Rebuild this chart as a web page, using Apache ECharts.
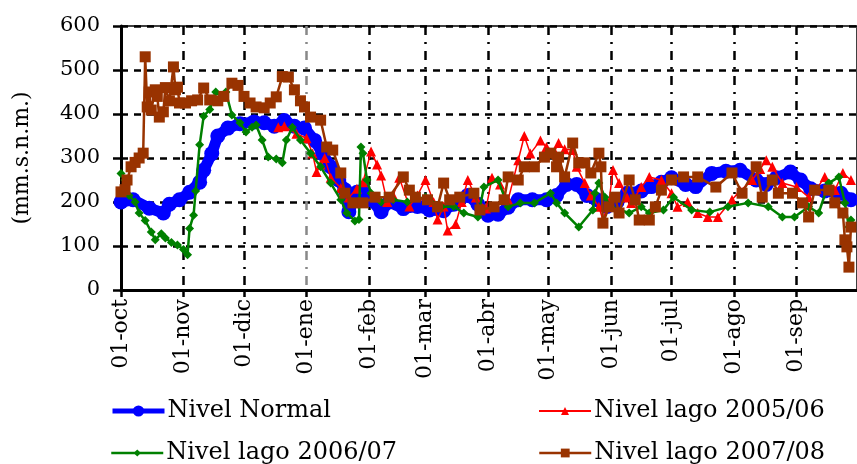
<!DOCTYPE html>
<html>
<head>
<meta charset="utf-8">
<script src="https://cdn.jsdelivr.net/npm/echarts@6/dist/echarts.min.js"></script>
<style>
  html, body { margin: 0; padding: 0; background: #fff; }
  #chart { width: 857px; height: 464px; }
</style>
</head>
<body>
<div id="chart"></div>
<script>
// days counted from 01-oct
const monthDays = [0, 31, 61, 92, 123, 151, 182, 212, 243, 273, 304, 335];
const monthLabels = ['01-oct', '01-nov', '01-dic', '01-ene', '01-feb', '01-mar',
                     '01-abr', '01-may', '01-jun', '01-jul', '01-ago', '01-sep'];
const yTicks = [0, 100, 200, 300, 400, 500, 600];

const normalDays = [0, 6, 14, 21, 24, 29, 34, 39, 41, 45, 48, 53, 59, 66, 71, 76, 81, 86, 91, 96,
  100, 104, 108, 111, 113, 117, 120, 124, 129, 133, 140, 147, 153, 160, 165, 172, 177, 182, 187, 192,
  197, 204, 211, 216, 221, 226, 231, 236, 241, 246, 251, 258, 263, 268, 273, 280, 285, 293, 300, 307,
  315, 320, 325, 332, 337, 342, 349, 357, 362];
const normalLevels = [200, 205, 186, 175, 195, 205, 222, 245, 272, 310, 350, 368, 378, 382, 380, 372, 385, 372, 368, 340,
  310, 280, 250, 228, 178, 222, 226, 205, 178, 200, 185, 190, 182, 180, 195, 215, 195, 170, 172, 188,
  205, 205, 205, 215, 240, 240, 215, 205, 190, 200, 220, 225, 235, 245, 255, 240, 235, 265, 270, 272,
  250, 240, 255, 268, 250, 230, 225, 220, 205];

const lago0506Days = [78, 81, 87, 92, 95, 97, 99, 101, 104, 109, 113, 117, 120, 124, 127, 129, 132, 135, 138, 143,
  147, 151, 155, 157, 160, 162, 166, 169, 172, 176, 181, 184, 188, 192, 197, 200, 203, 208, 211, 215,
  217, 220, 224, 226, 230, 233, 237, 239, 242, 244, 247, 251, 253, 258, 262, 268, 273, 276, 281, 286,
  291, 296, 303, 307, 313, 317, 320, 323, 328, 335, 341, 345, 349, 354, 358, 362];
const lago0506Levels = [370, 372, 355, 345, 310, 268, 285, 300, 255, 232, 210, 230, 245, 315, 285, 260, 200, 215, 255, 190,
  215, 250, 200, 160, 190, 135, 150, 200, 250, 210, 185, 255, 240, 205, 295, 350, 310, 340, 325, 315,
  334, 320, 318, 280, 243, 215, 189, 159, 200, 273, 243, 210, 198, 234, 257, 250, 220, 189, 200, 175,
  166, 166, 205, 225, 250, 275, 295, 280, 243, 234, 211, 230, 257, 227, 266, 250];

const lago0607Days = [0, 2, 4, 7, 9, 12, 15, 17, 20, 22, 25, 28, 31, 33, 34, 36, 37, 39, 41, 44,
  47, 50, 52, 55, 59, 62, 65, 67, 70, 73, 77, 80, 82, 85, 89, 94, 99, 104, 109, 112,
  116, 118, 119, 120, 122, 124, 129, 135, 142, 151, 159, 165, 170, 177, 180, 187, 192, 198, 205, 213,
  216, 220, 227, 234, 235, 237, 240, 243, 252, 258, 262, 269, 274, 283, 292, 301, 311, 321, 328, 334,
  341, 346, 351, 356, 359, 361, 362];
const lago0607Levels = [265, 250, 215, 200, 175, 158, 132, 114, 128, 118, 108, 102, 92, 80, 140, 170, 225, 330, 395, 410,
  450, 440, 450, 398, 380, 359, 370, 375, 341, 302, 298, 289, 341, 370, 341, 311, 280, 243, 205, 175,
  157, 160, 325, 311, 250, 220, 200, 205, 200, 211, 189, 190, 175, 166, 234, 250, 189, 198, 198, 220,
  198, 175, 143, 182, 220, 243, 211, 189, 175, 189, 175, 182, 211, 182, 177, 189, 198, 189, 166, 166,
  189, 175, 243, 257, 198, 143, 159];

const lago0708Days = [0, 2, 3, 5, 7, 9, 11, 12, 13, 14, 15, 17, 18, 19, 21, 22, 24, 26, 27, 28,
  29, 32, 35, 38, 41, 44, 48, 51, 55, 58, 61, 64, 67, 71, 74, 77, 80, 83, 86, 89,
  91, 94, 99, 102, 105, 109, 111, 115, 120, 126, 133, 140, 143, 146, 152, 157, 160, 163, 168, 175,
  178, 185, 190, 192, 197, 200, 205, 210, 213, 216, 217, 220, 224, 227, 230, 233, 237, 238, 239, 242,
  245, 247, 252, 255, 257, 262, 265, 268, 273, 279, 286, 295, 303, 308, 315, 318, 323, 326, 333, 338,
  341, 344, 351, 354, 358, 359, 360, 361, 362];
const lago0708Levels = [223, 228, 250, 280, 290, 300, 311, 530, 416, 450, 409, 455, 440, 393, 405, 460, 430, 507, 455, 461,
  425, 425, 430, 432, 459, 432, 430, 440, 470, 465, 440, 425, 416, 414, 425, 439, 485, 484, 455, 430,
  416, 393, 386, 325, 318, 266, 220, 198, 198, 211, 211, 257, 227, 211, 205, 189, 243, 205, 211, 220,
  182, 189, 205, 257, 250, 280, 280, 302, 311, 280, 302, 257, 334, 289, 289, 266, 311, 280, 152, 189,
  211, 175, 250, 205, 159, 159, 189, 227, 250, 257, 257, 234, 266, 220, 280, 211, 250, 220, 220, 198,
  166, 227, 227, 198, 175, 114, 98, 52, 143];

function pairs(days, vals) {
  return days.map((d, i) => [d, vals[i]]);
}

const font = 'DejaVu Serif';

const chart = echarts.init(document.getElementById('chart'));

function legendAt(name, left, top, lineWidth, symSize) {
  return {
    data: [{ name: name }],
    left: left,
    top: top,
    padding: 0,
    itemWidth: 52,
    itemHeight: symSize,
    itemGap: 0,
    z: 20,
    lineStyle: { width: lineWidth },
    textStyle: { fontFamily: font, fontSize: 24, color: '#000', padding: [0, 0, 0, -2] }
  };
}

const option = {
  backgroundColor: '#fff',
  animation: false,
  grid: {
    left: 121,
    right: -5,
    top: 26,
    bottom: 174,
    show: true,
    borderColor: '#000',
    borderWidth: 1.5,
    backgroundColor: 'transparent'
  },
  legend: [
    legendAt('Nivel Normal', 110, 399, 5, 14),
    legendAt('Nivel lago 2005/06', 538, 399, 2, 10),
    legendAt('Nivel lago 2006/07', 110, 441, 2.5, 9),
    legendAt('Nivel lago 2007/08', 538, 441, 2.5, 11)
  ],
  xAxis: {
    type: 'value',
    min: 0,
    max: 365,
    axisLine: { show: true, onZero: false, lineStyle: { color: '#000', width: 3 } },
    axisTick: {
      show: true,
      customValues: monthDays,
      length: 7,
      lineStyle: { color: '#000', width: 2.5 }
    },
    axisLabel: {
      customValues: monthDays,
      rotate: 90,
      margin: 9,
      fontFamily: font,
      fontSize: 22,
      color: '#000',
      formatter: function (v) {
        const i = monthDays.indexOf(Math.round(v));
        return i >= 0 ? monthLabels[i] : '';
      }
    },
    splitLine: {
      show: true,
      lineStyle: {
        color: ['#000', '#000', '#000', '#888', '#000', '#000', '#000', '#000', '#000', '#000', '#000', '#000'],
        width: 2.5,
        type: [9, 7, 2, 7]
      }
    }
  },
  yAxis: {
    type: 'value',
    min: 0,
    max: 600,
    interval: 100,
    name: '(mm.s.n.m.)',
    nameLocation: 'middle',
    nameGap: 88,
    nameTextStyle: { fontFamily: font, fontSize: 22, color: '#000' },
    axisLine: { show: true, lineStyle: { color: '#000', width: 3 } },
    axisTick: { show: true, length: 8, lineStyle: { color: '#000', width: 2.5 } },
    axisLabel: {
      margin: 21,
      fontFamily: font,
      fontSize: 21,
      color: '#000',
      formatter: function (v) { return yTicks.indexOf(v) >= 0 ? String(v) : ''; }
    },
    splitLine: {
      show: true,
      lineStyle: { color: '#000', width: 2.5, type: [7, 6] }
    }
  },
  series: [
    {
      name: 'Nivel Normal',
      type: 'line',
      data: pairs(normalDays, normalLevels),
      symbol: 'circle',
      symbolSize: 15,
      color: '#0000ff',
      lineStyle: { width: 11, color: '#0000ff' },
      itemStyle: { color: '#0000ff' },
      z: 2
    },
    {
      name: 'Nivel lago 2005/06',
      type: 'line',
      data: pairs(lago0506Days, lago0506Levels),
      symbol: 'triangle',
      symbolSize: 10,
      color: '#ff0000',
      lineStyle: { width: 1.5, color: '#ff0000' },
      itemStyle: { color: '#ff0000' },
      z: 3
    },
    {
      name: 'Nivel lago 2006/07',
      type: 'line',
      data: pairs(lago0607Days, lago0607Levels),
      symbol: 'diamond',
      symbolSize: 9,
      color: '#008000',
      lineStyle: { width: 2.5, color: '#008000' },
      itemStyle: { color: '#008000' },
      z: 4
    },
    {
      name: 'Nivel lago 2007/08',
      type: 'line',
      data: pairs(lago0708Days, lago0708Levels),
      symbol: 'rect',
      symbolSize: 11,
      color: '#993300',
      lineStyle: { width: 2.5, color: '#993300' },
      itemStyle: { color: '#993300' },
      z: 5
    }
  ]
};

chart.setOption(option);
</script>
</body>
</html>
